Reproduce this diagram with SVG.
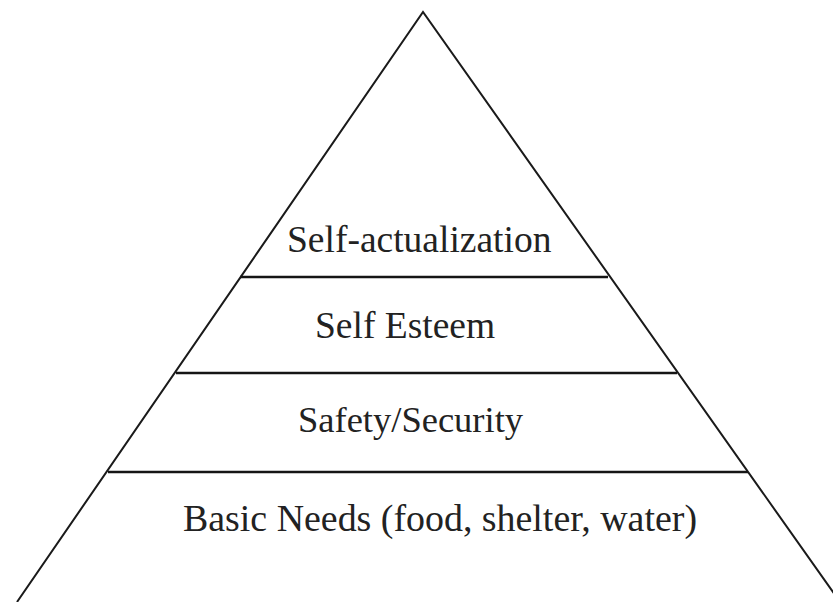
<svg xmlns="http://www.w3.org/2000/svg" width="833" height="602" viewBox="0 0 833 602">
<style>
.edge{fill:none;stroke:#1a1a1a;stroke-width:2}
.tier{stroke:#151515;stroke-width:2.6}
.lbl{font-family:"Liberation Serif","Times New Roman",serif;font-size:37.5px;fill:#222}
</style>
<rect width="833" height="602" fill="#fff"/>
<g id="connectors">
<polyline class="edge" points="17,602 423,12 840,602"/>
<line class="tier" x1="240" y1="277" x2="608" y2="277"/>
<line class="tier" x1="176" y1="373" x2="677" y2="373"/>
<line class="tier" x1="108" y1="472" x2="748" y2="472"/>
</g>
<g id="self-actualization"><text class="lbl" x="287" y="252">Self-actualization</text></g>
<g id="self-esteem"><text class="lbl" x="315" y="338">Self Esteem</text></g>
<g id="safety"><text class="lbl" x="298" y="432" style="font-size:36.5px">Safety/Security</text></g>
<g id="basic-needs"><text class="lbl" x="183" y="531" style="font-size:37.9px">Basic Needs (food, shelter, water)</text></g>
</svg>
